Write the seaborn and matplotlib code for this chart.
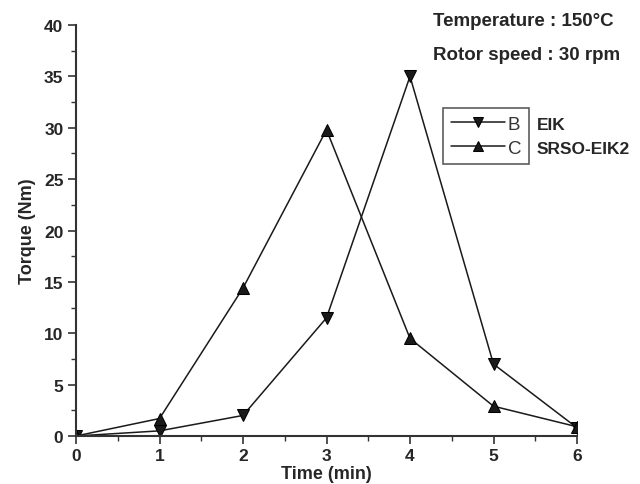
import matplotlib
matplotlib.use("Agg")
import matplotlib.pyplot as plt
import seaborn as sns
import pandas as pd
from matplotlib.ticker import MultipleLocator

time_min = [0, 1, 2, 3, 4, 5, 6]
torque_B = [0.0, 0.5, 2.0, 11.5, 35.0, 7.0, 0.8]
torque_C = [0.0, 1.7, 14.4, 29.8, 9.5, 2.9, 0.9]
series_codes = ["B", "C"]
series_names = ["EIK", "SRSO-EIK2"]

sns.set_theme(style="ticks")
plt.rcParams['font.family'] = ['Liberation Sans', 'DejaVu Sans']

df = pd.DataFrame({
    "time": time_min * 2,
    "torque": torque_B + torque_C,
    "series": [series_codes[0]] * len(time_min) + [series_codes[1]] * len(time_min),
})

W, H = 640, 485
fig = plt.figure(figsize=(6.4, 4.85), dpi=100)
ax = fig.add_axes([76 / W, 1 - 437 / H, (577 - 76) / W, (437 - 26) / H])

sns.lineplot(data=df, x="time", y="torque", hue="series", style="series",
             markers={"B": "v", "C": "^"}, dashes=False,
             palette={"B": "#1a1a1a", "C": "#1a1a1a"}, linewidth=1.1,
             markersize=9, markeredgecolor="black", ax=ax, legend=True)

ax.set_xlim(0, 6)
ax.set_ylim(0, 40)
ax.xaxis.set_major_locator(MultipleLocator(1))
ax.xaxis.set_minor_locator(MultipleLocator(0.5))
ax.yaxis.set_major_locator(MultipleLocator(5))
ax.yaxis.set_minor_locator(MultipleLocator(2.5))
ax.tick_params(which="major", length=6, width=1.2, direction="out",
               labelsize=12.5, pad=3, color="#333333")
ax.tick_params(which="minor", length=3.5, width=1.0, direction="out", color="#333333")
for lbl in ax.get_xticklabels() + ax.get_yticklabels():
    lbl.set_fontweight("bold")
sns.despine(ax=ax)
for sp in ["left", "bottom"]:
    ax.spines[sp].set_linewidth(1.5)
    ax.spines[sp].set_color("#333333")

ax.set_xlabel("Time (min)", fontsize=13, fontweight="bold", labelpad=1)
ax.set_ylabel("Torque (Nm)", fontsize=13, fontweight="bold", labelpad=6)

leg = ax.legend(title=None, loc="upper left",
                bbox_to_anchor=(443 / W, 1 - 109 / H), bbox_transform=fig.transFigure,
                borderaxespad=0, fontsize=13.5, frameon=True, fancybox=False,
                edgecolor="#333333", handlelength=2.9, handletextpad=0.15,
                borderpad=0.4, labelspacing=0.36, markerscale=0.75)
leg.get_frame().set_linewidth(1.2)
for t in leg.get_texts():
    t.set_color("#333333")

fig.canvas.draw()
texts = leg.get_texts()
for t, name in zip(texts, series_names):
    tb = t.get_window_extent().transformed(fig.transFigure.inverted())
    fig.text(537 / W, (tb.y0 + tb.y1) / 2, name, fontsize=12.5,
             fontweight="bold", va="center", ha="left")

fig.text(433 / W, 1 - 22 / H, "Temperature : 150°C", fontsize=13.5,
         fontweight="bold", va="center", ha="left")
fig.text(433 / W, 1 - 55 / H, "Rotor speed : 30 rpm", fontsize=13.5,
         fontweight="bold", va="center", ha="left")

fig.savefig("out.png", dpi=100)
